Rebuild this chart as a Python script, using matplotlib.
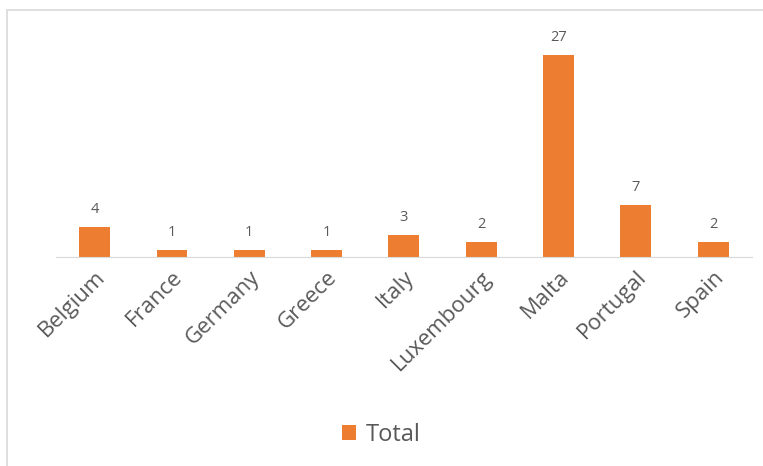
import matplotlib.pyplot as plt
from matplotlib.patches import Rectangle
import numpy as np

countries = ['Belgium', 'France', 'Germany', 'Greece', 'Italy', 'Luxembourg', 'Malta', 'Portugal', 'Spain']
total = [4, 1, 1, 1, 3, 2, 27, 7, 2]

plt.rcParams['font.family'] = ['Open Sans', 'DejaVu Sans']

fig = plt.figure(figsize=(7.63, 4.66), dpi=100)
# light grey frame around the chart area
fig.patches.append(Rectangle((7 / 763, -0.05), 1.0, 1 - 10 / 466 + 0.05, transform=fig.transFigure,
                             fill=False, edgecolor='#D9D9D9', linewidth=1.2))

ax = fig.add_axes([0.0734, 0.4485, 0.912, 0.4816])
x = np.arange(len(countries))
bars = ax.bar(x, total, width=0.4, color='#ED7D31', label='Total')
for xi, v in zip(x, total):
    ax.text(xi, v + 1.3, str(v), ha='center', va='bottom', fontsize=10.5, color='#595959')

ax.set_xlim(-0.5, len(countries) - 0.5)
ax.set_ylim(0, 30)
ax.set_yticks([])
ax.set_xticks(x)
ax.set_xticklabels(countries, rotation=45, ha='right', rotation_mode='anchor',
                   fontsize=16, color='#595959')
ax.tick_params(axis='x', length=0, pad=7)
for s in ['top', 'right', 'left']:
    ax.spines[s].set_visible(False)
ax.spines['bottom'].set_color('#D9D9D9')

fig.legend(handles=[bars], labels=['Total'], loc='center', bbox_to_anchor=(0.5, 1 - 435 / 466),
           frameon=False, fontsize=17, labelcolor='#595959', handlelength=0.6, handleheight=0.6,
           handletextpad=0.4)

fig.savefig('out.png')
